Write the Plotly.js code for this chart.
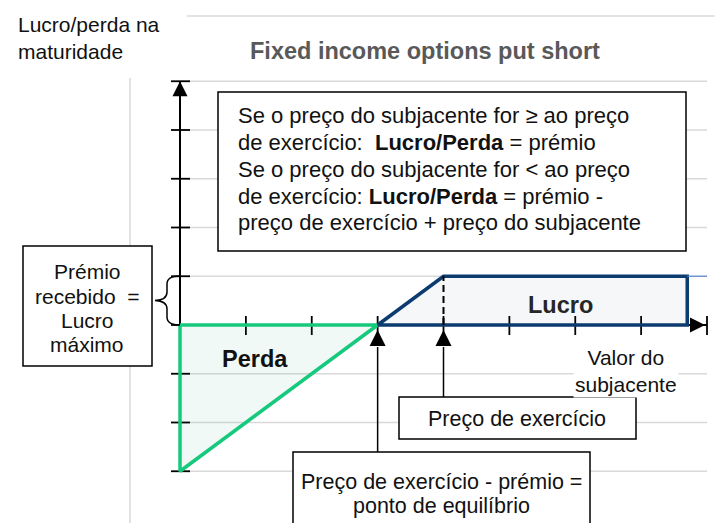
<!DOCTYPE html>
<html>
<head>
<meta charset="utf-8">
<script src="https://cdn.plot.ly/plotly-3.0.1.min.js"></script>
<style>
  html, body { margin: 0; padding: 0; background: #fff; }
  #chart { width: 715px; height: 523px; }
</style>
</head>
<body>
<div id="chart"></div>
<script>
// payoff of a short put: premium 1, strike 4, break-even 3
const lossX = [0, 3, 0, 0];
const lossY = [0, 0, -3, 0];
const profitX = [3, 4, 7.7, 7.7, 3];
const profitY = [0, 1, 1, 0, 0];
const extX = [7.7, 8];
const extY = [1, 1];
const strike = 4;
const breakEven = 3;
const premium = 1;
const xTicks = [1, 2, 3, 4, 5, 6, 7, 8];
const yTicks = [-3, -2, -1, 0, 1, 2, 3, 4, 5];

// pixel helpers (plot fills the whole page, 0 margins)
const W = 715, H = 523;
const ox = 180, oy = 325, ux = 65.875, uy = 48.75;
const dx = p => p / ux;
const dy = p => p / uy;
const px = p => p / W;
const py = p => 1 - p / H;
const dataY = p => (oy - p) / uy;

const font = "Liberation Sans, Arial, sans-serif";

// gridlines
const gx = [], gy = [];
yTicks.forEach(v => { gx.push(0, 8, null); gy.push(v, v, null); });

// tick marks crossing the axes
const tx = [], ty = [];
yTicks.forEach(v => { tx.push(-dx(9), dx(10), null); ty.push(v, v, null); });
xTicks.forEach(v => { tx.push(v, v, null); ty.push(dy(9), -dy(10), null); });

const traces = [
  { x: gx, y: gy, mode: "lines", line: { color: "#d9d9d9", width: 1.3 }, hoverinfo: "skip" },
  { x: [0, 8], y: [0, 0], mode: "lines", line: { color: "#000", width: 2 }, hoverinfo: "skip" },
  { x: [0, 0], y: [-3, 5], mode: "lines", line: { color: "#000", width: 2 }, hoverinfo: "skip" },
  { x: tx, y: ty, mode: "lines", line: { color: "#000", width: 1.8 }, hoverinfo: "skip" },
  { x: lossX, y: lossY, mode: "lines", fill: "toself", fillcolor: "rgba(0,150,90,0.06)",
    line: { color: "#17c97d", width: 3.5 }, hoverinfo: "skip" },
  { x: profitX, y: profitY, mode: "lines", fill: "toself", fillcolor: "rgba(13,59,110,0.04)",
    line: { color: "#0c3b70", width: 3.5 }, hoverinfo: "skip" },
  { x: extX, y: extY, mode: "lines", line: { color: "#5b8bd0", width: 1.2 }, hoverinfo: "skip" },
  { x: [strike, strike], y: [0, premium], mode: "lines",
    line: { color: "#000", width: 2, dash: "7px,4px" }, hoverinfo: "skip" },
  { x: [0], y: [5], mode: "markers", marker: { symbol: "arrow-up", size: 15, color: "#000", line: { width: 0 } }, hoverinfo: "skip" },
  { x: [7.97], y: [0], mode: "markers", marker: { symbol: "arrow-right", size: 15, color: "#000", line: { width: 0 } }, hoverinfo: "skip" },
  { x: [breakEven, strike], y: [-dy(5), -dy(5)], mode: "markers",
    marker: { symbol: "arrow-up", size: 16, color: "#000", line: { width: 0 } }, hoverinfo: "skip" }
];

function rect(x0, y0, x1, y1) {
  return { type: "rect", xref: "paper", yref: "paper", x0: px(x0), x1: px(x1), y0: py(y1), y1: py(y0),
    line: { color: "#000", width: 1.5 }, fillcolor: "#fff", layer: "above" };
}
function hline(x0, x1, y, color, w) {
  return { type: "line", xref: "paper", yref: "paper", x0: px(x0), x1: px(x1), y0: py(y), y1: py(y),
    line: { color: color, width: w }, layer: "below" };
}
const P = (x, y) => px(x).toFixed(5) + "," + py(y).toFixed(5);
const brace = "M" + P(180, 276) + " Q" + P(167, 276) + " " + P(167, 284) +
  " L" + P(167, 292) + " Q" + P(167, 300) + " " + P(155, 300.5) +
  " Q" + P(167, 301) + " " + P(167, 309) + " L" + P(167, 317) +
  " Q" + P(167, 325) + " " + P(180, 325);

const shapes = [
  hline(187, 715, 16, "#d9d9d9", 1.5),
  { type: "line", xref: "paper", yref: "paper", x0: px(130), x1: px(130), y0: py(78), y1: py(523),
    line: { color: "#d9d9d9", width: 1.5 }, layer: "below" },
  { type: "line", xref: "x", yref: "y", x0: breakEven, x1: breakEven, y0: -dy(22), y1: dataY(452),
    line: { color: "#000", width: 1.5 } },
  { type: "line", xref: "x", yref: "y", x0: strike, x1: strike, y0: -dy(22), y1: dataY(397),
    line: { color: "#000", width: 1.5 } },
  rect(218, 92, 686, 251),
  rect(23, 246, 152, 366),
  rect(399, 397, 636, 439),
  rect(293, 452, 590, 535),
  { type: "path", xref: "paper", yref: "paper", path: brace, line: { color: "#000", width: 1.5 } }
];

function ann(text, x, y, opts) {
  return Object.assign({
    text: text, xref: "paper", yref: "paper", x: px(x), y: py(y),
    xanchor: "center", yanchor: "middle", showarrow: false,
    font: { family: font, size: 21.5, color: "#111" }
  }, opts || {});
}

const boxLines = [
  "Se o preço do subjacente for ≥ ao preço",
  "de exercício:\u00a0 <b>Lucro/Perda</b> = prémio",
  "Se o preço do subjacente for < ao preço",
  "de exercício: <b>Lucro/Perda</b> = prémio -",
  "preço de exercício + preço do subjacente"
];
const boxLineY = [115, 142, 169, 196, 222];
const premLines = ["Prémio", "recebido\u00a0 =", "Lucro", "máximo"];
const premLineY = [271, 296, 320, 344];
const small = { family: font, size: 21, color: "#111" };
const boxFont = { family: font, size: 22, color: "#111" };

const annotations = [
  ann("Lucro/perda na<br>maturidade", 16, 38, { xanchor: "left", align: "left", font: small }),
  ann("<b>Fixed income options put short</b>", 425, 51,
    { font: { family: font, size: 23.5, color: "#595959" } }),
  ann("<b>Lucro</b>", 560, 305, { font: { family: font, size: 23.5, color: "#262626" } }),
  ann("<b>Perda</b>", 255, 359, { font: { family: font, size: 23.5, color: "#111" } }),
  ann("Valor do<br>subjacente", 626, 371, { bgcolor: "#fff", font: small }),
  ann("Preço de exercício", 517, 419),
  ann("Preço de exercício - prémio =", 441, 482),
  ann("ponto de equilíbrio", 441, 506)
];
boxLines.forEach((t, i) => annotations.push(ann(t, 236, boxLineY[i], { xanchor: "left", font: boxFont })));
premLines.forEach((t, i) => annotations.push(ann(t, 87, premLineY[i], { font: small })));

const layout = {
  width: W, height: H,
  margin: { l: 0, r: 0, t: 0, b: 0 },
  paper_bgcolor: "#fff", plot_bgcolor: "#fff",
  showlegend: false,
  xaxis: { visible: false, range: [-ox / ux, (W - ox) / ux], fixedrange: true },
  yaxis: { visible: false, range: [(oy - H) / uy, oy / uy], fixedrange: true },
  shapes: shapes,
  annotations: annotations
};

Plotly.newPlot("chart", traces, layout, { displayModeBar: false, staticPlot: true });
</script>
</body>
</html>
